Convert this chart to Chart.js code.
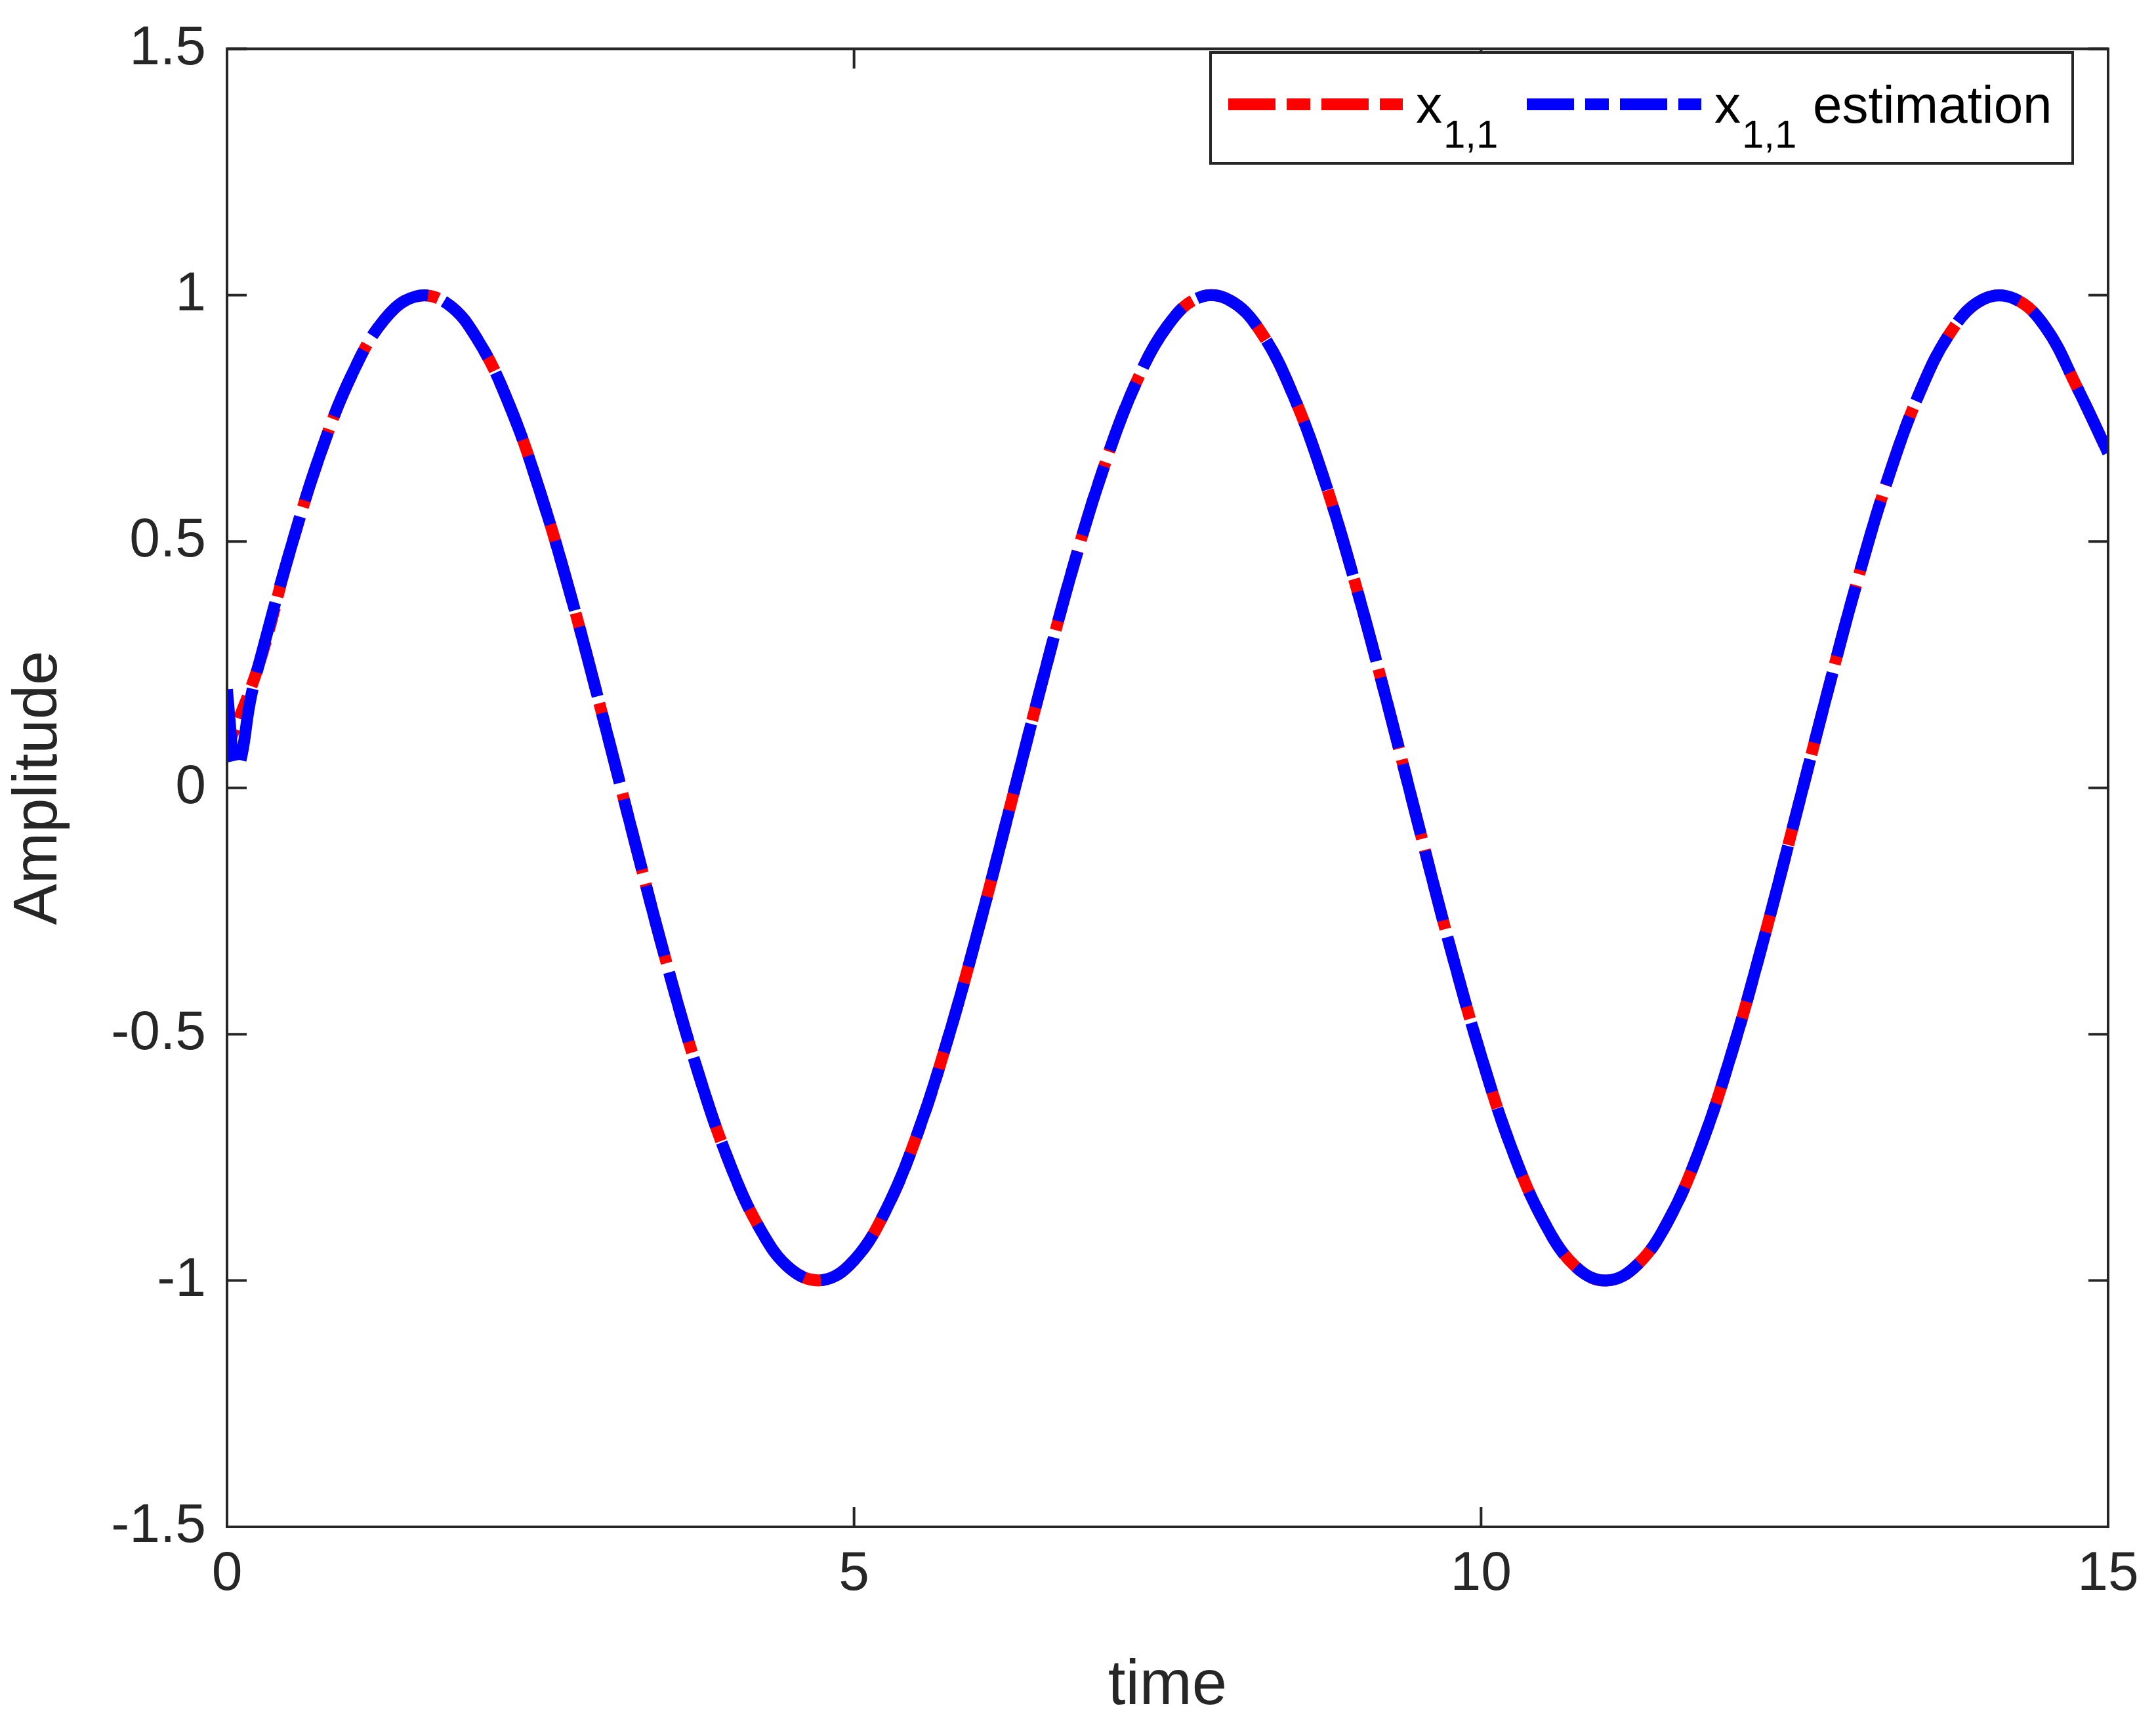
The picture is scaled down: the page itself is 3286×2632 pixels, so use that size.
<!DOCTYPE html>
<html>
<head>
<meta charset="utf-8">
<script src="https://cdn.jsdelivr.net/npm/chart.js@4"></script>
<style>
  html, body { margin: 0; padding: 0; background: #fff; }
  #wrap { width: 3286px; height: 2632px; }
</style>
</head>
<body>
<div id="wrap"><canvas id="c" width="3286" height="2632"></canvas></div>
<script>
// Zaman ekseni ve durum değerleri
const timeSteps = [0, 0.25, 0.5, 0.75, 1, 1.25, 1.5, 1.75, 2, 2.25, 2.5, 2.75, 3, 3.25, 3.5, 3.75,
  4, 4.25, 4.5, 4.75, 5, 5.25, 5.5, 5.75, 6, 6.25, 6.5, 6.75, 7, 7.25, 7.5, 7.75,
  8, 8.25, 8.5, 8.75, 9, 9.25, 9.5, 9.75, 10, 10.25, 10.5, 10.75, 11, 11.25, 11.5, 11.75,
  12, 12.25, 12.5, 12.75, 13, 13.25, 13.5, 13.75, 14, 14.25, 14.5, 14.75, 15];
const stateValues = [0.08, 0.247, 0.479, 0.682, 0.841, 0.949, 0.997, 0.984, 0.909, 0.778, 0.598, 0.382, 0.141, -0.108, -0.351, -0.572,
  -0.757, -0.895, -0.978, -0.999, -0.959, -0.859, -0.706, -0.508, -0.279, -0.033, 0.215, 0.451, 0.657, 0.823, 0.938, 0.995,
  0.989, 0.923, 0.798, 0.625, 0.412, 0.174, -0.075, -0.320, -0.544, -0.736, -0.880, -0.971, -1.000, -0.967, -0.875, -0.729,
  -0.537, -0.311, -0.066, 0.182, 0.420, 0.632, 0.804, 0.927, 0.991, 0.993, 0.935, 0.814, 0.680];
// Tahmin başlangıcındaki geçici kısım
const transientTimes = [0, 0.02, 0.05, 0.08, 0.12, 0.18];
const transientValues = [0.2, 0.14, 0.06, 0.04, 0.07, 0.17];

const xTicks = [0, 5, 10, 15];
const yTicks = [-1.5, -1, -0.5, 0, 0.5, 1, 1.5];

const trueData = timeSteps.map((t, i) => ({ x: t, y: stateValues[i] }));
const estData = transientTimes.map((t, i) => ({ x: t, y: transientValues[i] }))
  .concat(timeSteps.slice(1).map((t, i) => ({ x: t, y: stateValues[i + 1] })));

const FONT = 'Liberation Sans, Arial, sans-serif';
const INK = '#262626';
const DASH = [72, 17, 36, 17];

// Çerçeve, içe dönük tikler ve legend
const framePlugin = {
  id: 'frame',
  afterDraw(chart) {
    const { ctx, chartArea: a, scales } = chart;
    ctx.save();
    ctx.strokeStyle = INK;
    ctx.lineWidth = 4;
    ctx.strokeRect(a.left, a.top, a.right - a.left, a.bottom - a.top);
    const tl = 30;
    ctx.beginPath();
    xTicks.forEach(v => {
      const x = scales.x.getPixelForValue(v);
      ctx.moveTo(x, a.bottom); ctx.lineTo(x, a.bottom - tl);
      ctx.moveTo(x, a.top); ctx.lineTo(x, a.top + tl);
    });
    yTicks.forEach(v => {
      const y = scales.y.getPixelForValue(v);
      ctx.moveTo(a.left, y); ctx.lineTo(a.left + tl, y);
      ctx.moveTo(a.right, y); ctx.lineTo(a.right - tl, y);
    });
    ctx.stroke();

    // legend kutusu
    const bx = 1845, by = 80, bw = 3159 - 1845, bh = 169;
    ctx.fillStyle = '#fff';
    ctx.fillRect(bx, by, bw, bh);
    ctx.lineWidth = 4;
    ctx.strokeRect(bx, by, bw, bh);
    const ly = by + 79;
    const items = [
      { color: '#ff0000', x: 1872, suffix: '' },
      { color: '#0000ff', x: 2327, suffix: 'estimation' }
    ];
    items.forEach(it => {
      ctx.strokeStyle = it.color;
      ctx.lineWidth = 18;
      ctx.setLineDash(DASH);
      ctx.beginPath();
      ctx.moveTo(it.x, ly); ctx.lineTo(it.x + 266, ly);
      ctx.stroke();
      ctx.setLineDash([]);
      ctx.fillStyle = '#000';
      ctx.textBaseline = 'alphabetic';
      ctx.font = '80px ' + FONT;
      const tx = it.x + 286;
      ctx.fillText('x', tx, ly + 28);
      ctx.font = '60px ' + FONT;
      ctx.fillText('1,1', tx + 42, ly + 66);
      if (it.suffix) {
        ctx.font = '80px ' + FONT;
        ctx.fillText(it.suffix, tx + 150, ly + 28);
      }
    });
    ctx.restore();
  }
};

new Chart(document.getElementById('c').getContext('2d'), {
  type: 'line',
  data: {
    datasets: [
      {
        label: 'x11',
        data: trueData,
        borderColor: '#ff0000',
        borderWidth: 18,
        borderDash: DASH,
        borderDashOffset: 40,
        pointRadius: 0,
        tension: 0.4,
        order: 2,
        fill: false
      },
      {
        label: 'x11 estimation',
        data: estData,
        borderColor: '#0000ff',
        borderWidth: 18,
        borderDash: [110, 26],
        pointRadius: 0,
        tension: 0.4,
        order: 1,
        fill: false
      }
    ]
  },
  options: {
    responsive: false,
    animation: false,
    devicePixelRatio: 1,
    layout: { padding: { top: 65, right: 73, left: 0, bottom: 0 } },
    plugins: { legend: { display: false }, tooltip: { enabled: false } },
    scales: {
      x: {
        type: 'linear', min: 0, max: 15,
        afterFit(s) { s.height = 305; },
        afterBuildTicks(s) { s.ticks = xTicks.map(v => ({ value: v })); },
        grid: { display: false },
        border: { display: false },
        ticks: { color: INK, font: { family: FONT, size: 84 }, padding: 14, callback: v => String(v) },
        title: { display: true, text: 'time', color: INK, font: { family: FONT, size: 96 }, padding: { top: 10 } }
      },
      y: {
        type: 'linear', min: -1.5, max: 1.5,
        afterFit(s) { s.width = 346; },
        afterBuildTicks(s) { s.ticks = yTicks.map(v => ({ value: v })); },
        grid: { display: false },
        border: { display: false },
        ticks: { color: INK, font: { family: FONT, size: 84 }, padding: 24, callback: v => String(v) },
        title: { display: true, text: 'Amplitude', color: INK, font: { family: FONT, size: 94 }, padding: { bottom: 6 } }
      }
    }
  },
  plugins: [framePlugin]
});
</script>
</body>
</html>
